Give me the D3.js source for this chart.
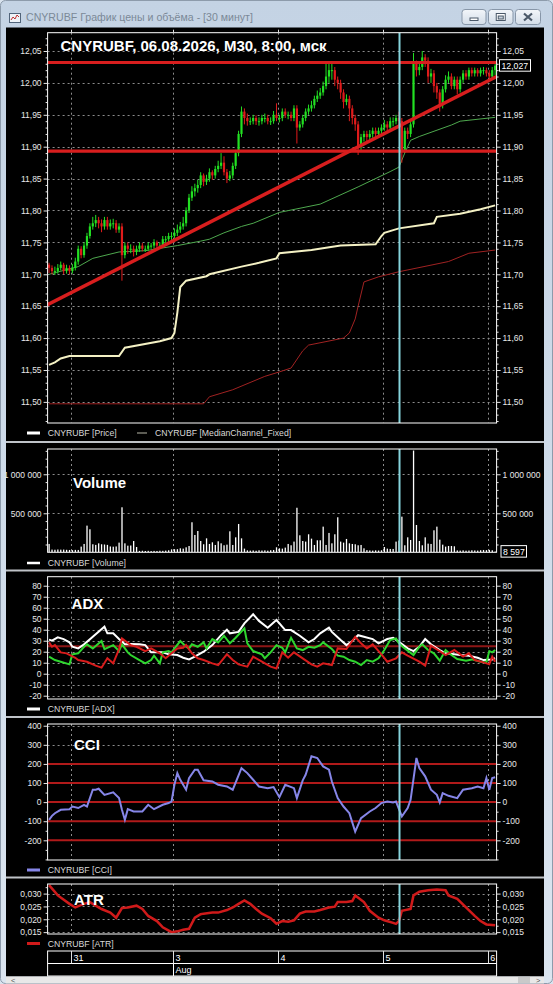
<!DOCTYPE html>
<html><head><meta charset="utf-8">
<script src="https://cdn.jsdelivr.net/npm/d3@7"></script>
<style>html,body{margin:0;padding:0;background:#d8e2ed;}svg{display:block;}</style>
</head><body>
<svg id="c" width="553" height="984"></svg>
<script>
// ---------------- DATA ----------------
const windowTitle = "CNYRUBF График цены и объёма - [30 минут]";
const chartTitle = "CNYRUBF, 06.08.2026, M30, 8:00, мск";
const firstOpen = 11.715;
const closes = [
11.710,11.705,11.705,11.710,11.715,11.705,11.710,11.705,11.710,11.720,
11.740,11.730,11.745,11.760,11.775,11.780,11.785,11.780,11.775,11.785,
11.775,11.780,11.780,11.770,11.775,11.730,11.745,11.740,11.740,11.735,
11.740,11.745,11.740,11.740,11.745,11.745,11.750,11.745,11.745,11.755,
11.755,11.760,11.760,11.765,11.770,11.775,11.780,11.800,11.820,11.830,
11.835,11.840,11.855,11.845,11.850,11.860,11.855,11.865,11.870,11.875,
11.860,11.850,11.855,11.870,11.890,11.920,11.955,11.945,11.940,11.940,
11.945,11.940,11.940,11.945,11.945,11.940,11.940,11.950,11.945,11.945,
11.955,11.950,11.950,11.945,11.960,11.930,11.935,11.945,11.955,11.960,
11.965,11.975,11.980,11.985,11.995,12.010,12.020,12.020,12.005,12.000,
11.985,11.970,11.975,11.960,11.945,11.935,11.900,11.915,11.920,11.915,
11.920,11.925,11.920,11.925,11.930,11.935,11.930,11.940,11.940,11.945,
11.940,11.895,11.925,11.920,11.935,12.030,12.020,12.025,12.040,12.035,
12.010,12.015,11.995,11.985,11.965,11.990,12.005,12.010,11.995,12.005,
11.990,12.005,12.015,12.010,12.020,12.015,12.020,12.015,12.020,12.020,
12.015,12.010,12.020,12.027];
const highs = [
11.718,11.714,11.712,11.716,11.720,11.718,11.715,11.714,11.716,11.726,
11.745,11.744,11.750,11.765,11.780,11.790,11.793,11.790,11.786,11.790,
11.790,11.786,11.787,11.785,11.780,11.780,11.750,11.750,11.747,11.745,
11.745,11.750,11.749,11.745,11.750,11.749,11.755,11.753,11.750,11.760,
11.760,11.765,11.766,11.772,11.778,11.782,11.790,11.805,11.826,11.838,
11.842,11.848,11.860,11.858,11.856,11.866,11.863,11.870,11.878,11.890,
11.885,11.865,11.862,11.875,11.895,11.925,11.963,11.960,11.952,11.946,
11.950,11.949,11.946,11.950,11.952,11.950,11.946,11.956,11.968,11.950,
11.960,11.960,11.955,11.955,11.965,11.965,11.940,11.950,11.960,11.966,
11.972,11.980,11.988,11.992,12.002,12.030,12.031,12.033,12.025,12.010,
12.005,11.990,11.982,11.980,11.965,11.950,11.940,11.920,11.925,11.925,
11.926,11.930,11.930,11.930,11.935,11.942,11.940,11.946,11.946,11.950,
11.955,11.945,11.930,11.930,11.940,12.047,12.035,12.030,12.050,12.045,
12.040,12.022,12.020,12.000,11.990,11.995,12.012,12.018,12.015,12.010,
12.010,12.010,12.020,12.020,12.024,12.024,12.024,12.023,12.024,12.025,
12.024,12.020,12.025,12.030];
const lows = [
11.702,11.700,11.699,11.701,11.706,11.700,11.701,11.700,11.701,11.706,
11.715,11.725,11.726,11.740,11.756,11.770,11.774,11.772,11.766,11.770,
11.770,11.770,11.772,11.765,11.765,11.690,11.725,11.732,11.733,11.728,
11.730,11.735,11.736,11.735,11.737,11.740,11.740,11.741,11.740,11.742,
11.748,11.750,11.754,11.756,11.760,11.765,11.770,11.775,11.796,11.815,
11.822,11.828,11.835,11.838,11.840,11.845,11.848,11.850,11.860,11.865,
11.855,11.843,11.846,11.850,11.865,11.885,11.915,11.935,11.933,11.934,
11.935,11.934,11.933,11.935,11.938,11.935,11.934,11.936,11.940,11.938,
11.940,11.945,11.943,11.940,11.940,11.905,11.925,11.930,11.940,11.950,
11.955,11.960,11.970,11.975,11.980,11.990,12.000,12.005,11.995,11.990,
11.975,11.960,11.965,11.940,11.935,11.925,11.887,11.895,11.908,11.908,
11.910,11.914,11.914,11.915,11.920,11.925,11.923,11.926,11.932,11.935,
11.930,11.875,11.890,11.912,11.915,11.930,12.010,12.012,12.020,12.025,
12.000,12.000,11.985,11.975,11.955,11.960,11.985,12.000,11.990,11.990,
11.982,11.985,12.000,12.005,12.005,12.010,12.010,12.010,12.010,12.013,
12.010,12.005,12.005,12.012];
const volumes = [
107000,35000,33000,36000,34000,35000,32000,30000,28000,31000,
30000,73000,107000,342000,295000,103000,95000,115000,103000,100000,
95000,75000,72000,75000,124000,577000,115000,85000,87000,145000,
68000,18000,20000,17000,19000,16000,18000,17000,20000,19000,
22000,26000,38000,40000,40000,51000,47000,64000,81000,385000,
222000,273000,145000,103000,179000,107000,128000,94000,141000,115000,
90000,98000,269000,94000,192000,363000,179000,47000,25000,22000,
24000,20000,26000,23000,25000,21000,27000,30000,64000,51000,
47000,60000,107000,90000,137000,571000,218000,145000,137000,231000,
175000,94000,154000,154000,329000,94000,248000,115000,231000,449000,
137000,124000,171000,115000,107000,103000,90000,94000,51000,28000,
24000,22000,25000,23000,26000,68000,47000,43000,43000,137000,
150000,457000,90000,192000,158000,1304000,350000,145000,90000,192000,
111000,107000,282000,329000,162000,98000,73000,81000,81000,77000,
24000,22000,25000,21000,23000,26000,24000,22000,27000,30000,
28000,31000,26000,8597];
// Median channel (bar index, value)
const mcUpper = [[0,11.558],[2,11.562],[4,11.568],[7,11.572],[24,11.572],[26,11.585],[38,11.595],[42,11.600],[43,11.608],[44,11.640],[45,11.680],[47,11.690],[54,11.697],[55,11.700],[66,11.712],[72,11.718],[78,11.725],[79,11.733],[90,11.738],[100,11.745],[112,11.747],[114,11.760],[115,11.765],[120,11.772],[132,11.780],[133,11.790],[141,11.795],[148,11.802],[153,11.808]];
const mcMiddle = [[0,11.700],[10,11.712],[15,11.725],[24,11.735],[33,11.737],[44,11.745],[52,11.752],[55,11.755],[60,11.765],[66,11.775],[70,11.780],[79,11.797],[93,11.810],[106,11.837],[117,11.861],[120,11.868],[122,11.890],[124,11.910],[127,11.916],[138,11.934],[141,11.940],[153,11.946]];
const mcLower = [[0,11.497],[53,11.497],[55,11.508],[63,11.519],[74,11.540],[79,11.547],[83,11.553],[87,11.580],[89,11.589],[101,11.600],[103,11.608],[105,11.630],[106,11.650],[108,11.688],[113,11.696],[120,11.704],[137,11.720],[144,11.733],[153,11.738]];
const levelLines = [12.032, 11.893];
const trendLine = [[-0.7, 11.652], [153.5, 12.010]];
const lastPrice = 12.027;
// ADX block
const adxLine = [[0,31],[1,30],[3,33],[5,31.5],[7,28.5],[8,24.5],[10,23],[12,26.7],[15,33.6],[19,42.7],[20,36.7],[22,36.7],[24,31.5],[26,26.7],[28,27],[31,26.7],[33,26],[35,19.4],[39,19.4],[41,17.6],[44,17],[46,14.5],[48,13],[50,15.5],[53,20],[56,26],[59,35],[61,40],[62,36.7],[65,38],[67,45.8],[70,54],[72,48],[75,41.8],[78,48.8],[81,39.7],[83,39.7],[86,34.5],[89,28.5],[91,31.5],[93,36.7],[96,41.8],[97,38],[100,30.6],[102,26],[104,29.7],[106,35],[108,33.6],[111,31.5],[113,27.6],[116,31.5],[118,32.7],[120,29],[123,23],[125,20.6],[127,24.5],[129,31.5],[131,26.7],[134,21.5],[136,18.5],[139,17.6],[141,17],[144,16.4],[147,14.5],[149,12.4],[152,13],[153,14]];
const plusDI = [[0,15.5],[2,12.4],[4,10.9],[7,8.5],[8,17.6],[10,18.5],[12,24.5],[13,26.7],[15,23],[18,29.7],[19,22.4],[22,26],[24,20.6],[25,26.7],[27,19.4],[28,17],[31,12.4],[33,9.4],[35,12.4],[36,16.4],[38,9.4],[39,19.4],[41,20.6],[42,19.4],[45,29.7],[47,24.5],[48,23],[49,26.7],[51,24.5],[53,28.5],[54,23],[56,31.5],[58,28.5],[60,34.5],[62,27.6],[64,32.7],[67,41.2],[68,27.6],[70,20.6],[73,17.6],[74,14],[76,19.4],[78,26],[80,23.6],[81,19.4],[83,32.7],[85,23],[87,21.5],[89,24.5],[91,23.6],[93,26],[94,28.5],[97,22.4],[99,16.4],[101,15.5],[103,12.4],[105,10.9],[107,7.9],[109,12.4],[111,10.9],[113,14],[115,21.5],[117,30.6],[119,32],[120,27.6],[122,23],[125,17],[127,24.5],[128,26.7],[130,21.5],[132,18.5],[134,11.8],[136,21.5],[138,17],[140,13.3],[143,11.8],[145,13],[148,10.9],[150,10.3],[151,20.6],[152,19.4],[153,21.5]];
const minusDI = [[0,28.5],[1,24.5],[2,26],[4,19.4],[6,18.5],[9,14.5],[10,12.4],[13,10.9],[16,7.3],[18,5.5],[20,14],[22,9.4],[24,22.4],[25,32],[28,26],[30,24.5],[33,20.6],[35,23],[38,18.5],[40,14],[42,18.5],[44,23],[46,23.6],[47,26],[49,18.5],[51,14],[53,12.4],[56,9.4],[58,7.9],[61,17.6],[63,12.4],[65,8.5],[68,6.4],[70,15.5],[73,10.9],[76,6.4],[78,4.8],[80,19.4],[82,14.5],[84,19.4],[87,14],[90,8.5],[92,6.4],[94,9.4],[97,7.9],[99,23],[102,22.4],[105,33.6],[107,27.6],[109,23],[111,26.7],[114,17.6],[116,10.9],[119,14],[121,19.4],[123,16.4],[127,10.9],[129,7.3],[131,25.5],[134,20.6],[136,17],[139,21.5],[142,15.5],[144,18.5],[146,12.4],[149,10.3],[151,8.5],[152,15.5],[153,10.9]];
const adxLevel = 25;
// CCI
const cciLine = [[0,-93],[1,-72],[2,-58],[4,-40],[7,-37],[8,-23],[10,-31],[12,-14],[13,-23],[15,65],[16,65],[17,70],[19,38],[22,51],[24,21],[25,-40],[26,-93],[27,-37],[29,-49],[32,-49],[34,-14],[36,-37],[39,-14],[41,-5],[42,3],[43,91],[44,152],[45,117],[47,65],[48,126],[50,170],[51,170],[53,114],[56,108],[58,91],[61,82],[63,65],[66,178],[68,152],[70,117],[72,82],[75,73],[77,79],[79,26],[81,91],[84,73],[85,21],[87,114],[88,143],[90,240],[92,231],[94,187],[96,170],[97,108],[99,21],[101,-23],[103,-58],[105,-154],[107,-84],[110,-49],[112,-31],[114,-5],[116,3],[118,-2],[119,3],[121,-75],[123,-31],[124,12],[126,231],[127,178],[129,135],[131,65],[133,38],[134,-2],[135,47],[137,33],[140,21],[142,65],[145,73],[147,82],[149,73],[150,126],[151,65],[152,126],[153,130]];
const cciLevels = [200, 100, 0, -100, -200];
// ATR
const atrLine = [[0,0.0333],[3,0.0293],[7,0.026],[9,0.0246],[12,0.026],[14,0.0267],[16,0.0253],[18,0.024],[21,0.0226],[23,0.0206],[25,0.0244],[27,0.0246],[30,0.0253],[32,0.024],[34,0.0213],[37,0.0193],[39,0.0169],[42,0.015],[44,0.0153],[46,0.0159],[48,0.0163],[50,0.0206],[52,0.022],[53,0.0222],[56,0.0226],[58,0.0226],[61,0.0236],[63,0.0246],[65,0.026],[67,0.0273],[69,0.026],[71,0.024],[73,0.0222],[76,0.0204],[78,0.0183],[80,0.0193],[82,0.019],[84,0.0196],[86,0.0222],[88,0.023],[91,0.023],[93,0.0236],[96,0.0246],[98,0.0249],[99,0.0267],[102,0.0267],[104,0.0271],[105,0.0293],[108,0.0267],[110,0.0233],[113,0.0206],[115,0.0196],[118,0.0186],[119,0.0182],[120,0.0193],[121,0.0233],[124,0.024],[125,0.0293],[127,0.0307],[130,0.0313],[133,0.0316],[136,0.0313],[137,0.0293],[140,0.028],[143,0.0246],[146,0.0213],[148,0.0193],[150,0.018],[153,0.0177]];
// time axis
const dayStarts = [8, 43, 79, 115, 151];
const dayLabels = ["31", "3", "4", "5", "6"];
const monthStart = 43, monthLabel = "Aug";
const cursorIndex = 120.2;
// ticks
const priceTicks = [12.05,12.00,11.95,11.90,11.85,11.80,11.75,11.70,11.65,11.60,11.55,11.50];
const volumeTicks = [500000, 1000000];
const adxTicks = [80,70,60,50,40,30,20,10,0,-10,-20];
const cciTicks = [400,300,200,100,0,-100,-200];
const atrTicks = [0.030,0.025,0.020,0.015];
const legends = {
  price: ["CNYRUBF [Price]", "CNYRUBF [MedianChannel_Fixed]"],
  volume: "CNYRUBF [Volume]", adx: "CNYRUBF [ADX]", cci: "CNYRUBF [CCI]", atr: "CNYRUBF [ATR]"
};

// ---------------- DRAW ----------------
const svg = d3.select('#c');
const FONT = "'Liberation Sans', Arial, sans-serif";
const GREEN = '#22e022', RED = '#e01b1b';
const defs = svg.append('defs');
const tg = defs.append('linearGradient').attr('id','tbar').attr('x1',0).attr('y1',0).attr('x2',0).attr('y2',1);
tg.append('stop').attr('offset','0%').attr('stop-color','#c4d3e4');
tg.append('stop').attr('offset','100%').attr('stop-color','#dbe5f0');
const bg = defs.append('linearGradient').attr('id','btn').attr('x1',0).attr('y1',0).attr('x2',0).attr('y2',1);
bg.append('stop').attr('offset','0%').attr('stop-color','#f3f6fa');
bg.append('stop').attr('offset','100%').attr('stop-color','#d3dde8');

// window chrome
svg.append('rect').attr('x',0).attr('y',0).attr('width',553).attr('height',984).attr('fill','#d9e3ee');
svg.append('rect').attr('x',0.5).attr('y',0.5).attr('width',552).attr('height',983).attr('rx',5).attr('fill','url(#tbar)').attr('stroke','#8d9bab');
svg.append('rect').attr('x',9.5).attr('y',13.5).attr('width',11).attr('height',9).attr('fill','#eef3f8').attr('stroke','#51647a');
svg.append('polyline').attr('points','11,20 13,17 15,19 17,15 19,17').attr('fill','none').attr('stroke','#c03030').attr('stroke-width',1);
svg.append('text').attr('x',26).attr('y',21).attr('font-family',FONT).attr('font-size',10.6).attr('fill','#7b8997').text(windowTitle);
const buttons = [[462,486],[488.5,513],[515.5,540.5]];
buttons.forEach((b,k)=>{
  svg.append('rect').attr('x',b[0]).attr('y',9.5).attr('width',b[1]-b[0]).attr('height',15).attr('rx',3).attr('fill','url(#btn)').attr('stroke','#8796a8');
  const cx=(b[0]+b[1])/2, cy=17;
  if(k===0) svg.append('rect').attr('x',cx-4).attr('y',cy+1).attr('width',8).attr('height',2.5).attr('fill','#fff').attr('stroke','#4a5868');
  if(k===1) { svg.append('rect').attr('x',cx-4.5).attr('y',cy-3.5).attr('width',9).attr('height',7).attr('fill','#fff').attr('stroke','#4a5868');
              svg.append('rect').attr('x',cx-2.5).attr('y',cy-1).attr('width',5).attr('height',3).attr('fill','#c8d2dc').attr('stroke','#4a5868'); }
  if(k===2) svg.append('path').attr('d',`M${cx-4},${cy-3.5}L${cx+4},${cy+3.5}M${cx+4},${cy-3.5}L${cx-4},${cy+3.5}`).attr('stroke','#4a5868').attr('stroke-width',2.2);
});
// black client area
svg.append('rect').attr('x',6).attr('y',27.5).attr('width',538).attr('height',949).attr('fill','#000');
// separators
[441, 569.5, 716, 876.5].forEach(yy=>svg.append('rect').attr('x',6).attr('y',yy).attr('width',538).attr('height',2).attr('fill','#bfc3c8'));
// scrollbar
svg.append('rect').attr('x',6).attr('y',976.5).attr('width',538).attr('height',7).attr('fill','#e8e8e8');
svg.append('rect').attr('x',518).attr('y',977).attr('width',12).attr('height',6).attr('fill','#c9c9c9');
svg.append('text').attr('x',11).attr('y',982.6).attr('font-family',FONT).attr('font-size',7.5).attr('fill','#555').text('<');
svg.append('text').attr('x',536).attr('y',982.6).attr('font-family',FONT).attr('font-size',7.5).attr('fill','#555').text('>');

const X0 = 47.6, X1 = 496.6;
const N = closes.length;
const x = d3.scaleLinear().domain([-0.5, N - 0.5]).range([X0, X1]);
const comma = s => s.replace('.', ',');
const locale = d3.formatLocale({decimal:',', thousands:' ', grouping:[3], currency:['','']});
const volFmt = locale.format(',d');

function makePanel(key, top, bottom, domain, majors, minors, fmt, gridVals){
  const y = d3.scaleLinear().domain(domain).range([bottom, top]);
  const g = svg.append('g');
  defs.append('clipPath').attr('id','clip-'+key).append('rect').attr('x',X0).attr('y',top).attr('width',X1-X0).attr('height',bottom-top);
  const grid = g.append('g').attr('stroke','#8c8c8c').attr('stroke-width',1).attr('stroke-dasharray','2,3');
  grid.append('g').selectAll('line').data(gridVals).join('line')
    .attr('x1',X0).attr('x2',X1).attr('y1',d=>Math.round(y(d))+0.5).attr('y2',d=>Math.round(y(d))+0.5);
  grid.append('g').selectAll('line').data(dayStarts).join('line')
    .attr('x1',d=>Math.round(x(d-0.5))+0.5).attr('x2',d=>Math.round(x(d-0.5))+0.5).attr('y1',top).attr('y2',bottom);
  const body = g.append('g').attr('clip-path',`url(#clip-${key})`);
  return {key, y, g, body, top, bottom, majors, minors, fmt};
}
function styleAxis(sel){
  sel.select('.domain').remove();
  sel.selectAll('line').attr('stroke','#e6e6e6');
  sel.selectAll('text').attr('fill','#e8e8e8').attr('font-family',FONT).attr('font-size',8.5);
}
function finishPanel(p){
  const over = p.g.append('g');
  over.append('line').attr('x1',x(cursorIndex)).attr('x2',x(cursorIndex)).attr('y1',p.top).attr('y2',p.bottom)
    .attr('stroke','#86d4dc').attr('stroke-width',2);
  over.append('rect').attr('x',X0).attr('y',p.top).attr('width',X1-X0).attr('height',p.bottom-p.top)
    .attr('fill','none').attr('stroke','#ffffff').attr('stroke-width',1);
  const L = over.append('g').attr('transform',`translate(${X0},0)`).call(d3.axisLeft(p.y).tickValues(p.majors).tickSize(4).tickPadding(2).tickFormat(p.fmt));
  const R = over.append('g').attr('transform',`translate(${X1},0)`).call(d3.axisRight(p.y).tickValues(p.majors).tickSize(4).tickPadding(2).tickFormat(p.fmt));
  styleAxis(L); styleAxis(R);
  if (p.minors.length){
    const mL = over.append('g').attr('transform',`translate(${X0},0)`).call(d3.axisLeft(p.y).tickValues(p.minors).tickSize(2).tickFormat(''));
    const mR = over.append('g').attr('transform',`translate(${X1},0)`).call(d3.axisRight(p.y).tickValues(p.minors).tickSize(2).tickFormat(''));
    styleAxis(mL); styleAxis(mR);
  }
  return over;
}
function label(txt, xx, yy){
  svg.append('text').attr('x',xx).attr('y',yy).attr('font-family',FONT).attr('font-weight','bold').attr('font-size',15).attr('fill','#ffffff').text(txt);
}
function legend(yy, color, width, txt, lx0, lx1, tx){
  svg.append('line').attr('x1',lx0).attr('x2',lx1).attr('y1',yy).attr('y2',yy).attr('stroke',color).attr('stroke-width',width);
  svg.append('text').attr('x',tx).attr('y',yy+3).attr('font-family',FONT).attr('font-size',8.7).attr('fill','#d8d8d8').text(txt);
}
const pairLine = (y) => d3.line().x(d=>x(d[0])).y(d=>y(d[1]));

// ---- Price panel
const priceMinor = d3.range(11.47, 12.075, 0.01).map(v=>+v.toFixed(2)).filter(v=>!priceTicks.some(t=>Math.abs(t-v)<1e-6));
const P = makePanel('price', 32.7, 423, [11.4669, 12.0787], priceTicks, priceMinor, d=>comma(d3.format('.2f')(d)), priceTicks);
P.body.append('path').datum(mcLower).attr('d',pairLine(P.y)).attr('fill','none').attr('stroke','#a02222').attr('stroke-width',1);
P.body.append('path').datum(mcUpper).attr('d',pairLine(P.y)).attr('fill','none').attr('stroke','#f4f1c4').attr('stroke-width',2);
P.body.append('path').datum(mcMiddle).attr('d',pairLine(P.y)).attr('fill','none').attr('stroke','#4ea84e').attr('stroke-width',1);
const opens = closes.map((c,i)=> i===0 ? firstOpen : closes[i-1]);
const candleColor = i => closes[i] >= opens[i] ? GREEN : RED;
P.body.append('g').selectAll('line').data(closes).join('line')
  .attr('x1',(d,i)=>x(i)).attr('x2',(d,i)=>x(i)).attr('y1',(d,i)=>P.y(highs[i])).attr('y2',(d,i)=>P.y(lows[i]))
  .attr('stroke',(d,i)=>candleColor(i)).attr('stroke-width',1);
P.body.append('g').selectAll('rect').data(closes).join('rect')
  .attr('x',(d,i)=>x(i)-1.1).attr('width',2.2)
  .attr('y',(d,i)=>P.y(Math.max(d,opens[i])))
  .attr('height',(d,i)=>Math.max(1, Math.abs(P.y(d)-P.y(opens[i]))))
  .attr('fill',(d,i)=>candleColor(i));
P.body.append('g').selectAll('line').data(levelLines).join('line')
  .attr('x1',X0).attr('x2',X1).attr('y1',d=>P.y(d)).attr('y2',d=>P.y(d)).attr('stroke','#d81e1e').attr('stroke-width',3.2);
P.body.append('path').datum(trendLine).attr('d',pairLine(P.y)).attr('fill','none').attr('stroke','#d81e1e').attr('stroke-width',3.5);
const pOver = finishPanel(P);
// top day ticks
pOver.append('g').selectAll('line').data(dayStarts).join('line')
  .attr('x1',d=>Math.round(x(d-0.5))+0.5).attr('x2',d=>Math.round(x(d-0.5))+0.5).attr('y1',P.top-3).attr('y2',P.top).attr('stroke','#ddd');
// last price box
const ly = P.y(lastPrice);
pOver.append('rect').attr('x',499.5).attr('y',ly-6).attr('width',31).attr('height',11.5).attr('fill','#000').attr('stroke','#fff');
pOver.append('text').attr('x',501.5).attr('y',ly+3).attr('font-family',FONT).attr('font-size',8.7).attr('fill','#fff').text(comma(String(lastPrice)));
label(chartTitle, 60.5, 50.5);
legend(433, '#ffffff', 3, legends.price[0], 27, 40, 47.7);
legend(433, '#b8b8a8', 1, legends.price[1], 137, 147, 155);

// ---- Volume panel
const volMinor = d3.range(100000, 1400000, 100000).filter(v=>!volumeTicks.includes(v));
const V = makePanel('vol', 449, 552.3, [0, 1324000], volumeTicks, volMinor, d=>volFmt(d), volumeTicks);
V.body.append('g').selectAll('rect').data(volumes).join('rect')
  .attr('x',(d,i)=>x(i)-0.6).attr('width',1.3)
  .attr('y',d=>V.y(d)).attr('height',d=>V.y(0)-V.y(d)).attr('fill','#ffffff');
const vOver = finishPanel(V);
const lv = volumes[volumes.length-1];
vOver.append('rect').attr('x',501).attr('y',V.y(lv)-6).attr('width',25.5).attr('height',11.5).attr('fill','#000').attr('stroke','#fff');
vOver.append('text').attr('x',503).attr('y',V.y(lv)+3).attr('font-family',FONT).attr('font-size',8.7).attr('fill','#fff').text(volFmt(lv));
label('Volume', 73, 488.3);
legend(563, '#ffffff', 2.5, legends.volume, 27, 40, 47.7);

// ---- ADX panel
const A = makePanel('adx', 576.7, 699, [-23, 88.2], adxTicks, [], d=>String(d), adxTicks);
A.body.append('line').attr('x1',X0).attr('x2',X1).attr('y1',A.y(adxLevel)).attr('y2',A.y(adxLevel)).attr('stroke','#8e1616').attr('stroke-width',2);
A.body.append('path').datum(adxLine).attr('d',pairLine(A.y)).attr('fill','none').attr('stroke','#ffffff').attr('stroke-width',2);
A.body.append('path').datum(plusDI).attr('d',pairLine(A.y)).attr('fill','none').attr('stroke','#2fd62f').attr('stroke-width',2);
A.body.append('path').datum(minusDI).attr('d',pairLine(A.y)).attr('fill','none').attr('stroke','#d81c1c').attr('stroke-width',2);
finishPanel(A);
label('ADX', 71.6, 609.3);
legend(709, '#ffffff', 3, legends.adx, 27, 40, 47.7);

// ---- CCI panel
const cciMinor = d3.range(-300, 401, 50).filter(v=>!cciTicks.includes(v));
const C = makePanel('cci', 724, 860, [-303, 409], cciTicks, cciMinor, d=>String(d), cciTicks);
C.body.append('g').selectAll('line').data(cciLevels).join('line')
  .attr('x1',X0).attr('x2',X1).attr('y1',d=>C.y(d)).attr('y2',d=>C.y(d)).attr('stroke','#b01a1a').attr('stroke-width',2);
C.body.append('path').datum(cciLine).attr('d',pairLine(C.y)).attr('fill','none').attr('stroke','#8686e8').attr('stroke-width',2);
finishPanel(C);
label('CCI', 74, 750);
legend(870, '#8686e8', 3, legends.cci, 27, 40, 47.7);

// ---- ATR panel
const atrMinor = [0.0325, 0.0275, 0.0225, 0.0175];
const T = makePanel('atr', 884, 934, [0.01427, 0.03374], atrTicks, atrMinor, d=>comma(d3.format('.3f')(d)), atrTicks);
T.body.append('path').datum(atrLine).attr('d',pairLine(T.y)).attr('fill','none').attr('stroke','#d01a1a').attr('stroke-width',2.5);
finishPanel(T);
label('ATR', 74, 905);
legend(943.5, '#d01a1a', 3, legends.atr, 27, 40, 47.7);

// ---- Time axis
const ta = svg.append('g');
ta.append('rect').attr('x',X0).attr('y',951).attr('width',X1-X0).attr('height',25).attr('fill','#000').attr('stroke','#fff');
ta.append('line').attr('x1',X0).attr('x2',X1).attr('y1',963.5).attr('y2',963.5).attr('stroke','#fff');
ta.selectAll('line.d').data(dayStarts).join('line').attr('class','d')
  .attr('x1',d=>Math.round(x(d-0.5))+0.5).attr('x2',d=>Math.round(x(d-0.5))+0.5).attr('y1',951).attr('y2',963.5).attr('stroke','#e0e0e0');
ta.append('line').attr('x1',Math.round(x(monthStart-0.5))+0.5).attr('x2',Math.round(x(monthStart-0.5))+0.5).attr('y1',963.5).attr('y2',976).attr('stroke','#fff');
ta.selectAll('text.d').data(dayLabels).join('text').attr('class','d')
  .attr('x',(d,i)=>x(dayStarts[i]-0.5)+2.5).attr('y',961).attr('font-family',FONT).attr('font-size',9).attr('fill','#fff').text(d=>d);
ta.append('text').attr('x',x(monthStart-0.5)+2.5).attr('y',973).attr('font-family',FONT).attr('font-size',9).attr('fill','#fff').text(monthLabel);
</script>
</body></html>
